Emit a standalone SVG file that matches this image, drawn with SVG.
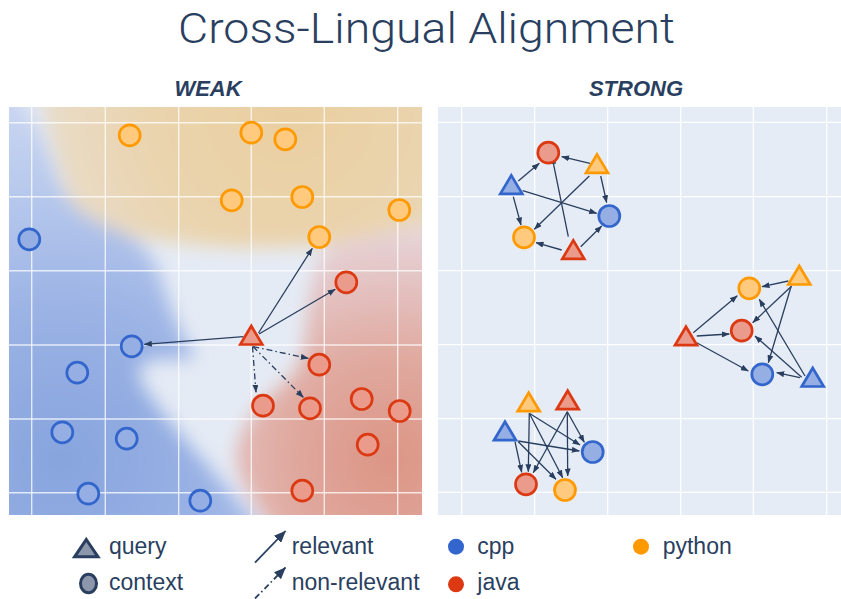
<svg xmlns="http://www.w3.org/2000/svg" xmlns:xlink="http://www.w3.org/1999/xlink" width="841" height="599" viewBox="0 0 841 599">
<style>
text{font-family:"Liberation Sans",Arial,Helvetica,sans-serif;fill:#2a3f5f}
.title{font-family:Roboto,"Liberation Sans",sans-serif;font-weight:300;font-size:43px}
.sub{font-size:22px;font-weight:bold;font-style:italic}
.leg{font-size:23px}
.grid{stroke:#ffffff;stroke-width:1.2;fill:none}
.gridL{stroke:#ffffff;stroke-width:1.4;stroke-opacity:0.75;fill:none}
.cpp{fill:#95aee3;stroke:#3366cc;stroke-width:2.7}
.java{fill:#ea9b8b;stroke:#dc3912;stroke-width:2.7}
.py{fill:#ffca7d;stroke:#ff9900;stroke-width:2.7}
.e{stroke:#2a3f5f;stroke-width:1.3;fill:none;marker-end:url(#ah)}
.dd{stroke-dasharray:6 3 1.5 3}
</style>
<defs>
<path id="tri" d="M0,-10 L11,8.5 L-11,8.5 Z" stroke-linejoin="miter"/>
<marker id="ah" markerUnits="userSpaceOnUse" markerWidth="8" markerHeight="6" viewBox="0 0 8 6" refX="7.5" refY="3" orient="auto">
<path d="M0,0 L8,3 L0,6 Z" fill="#2a3f5f"/>
</marker>
<marker id="ahL" markerUnits="userSpaceOnUse" markerWidth="12" markerHeight="10" viewBox="0 0 12 10" refX="11.5" refY="5" orient="auto">
<path d="M0,0 L12,5 L0,10 Z" fill="#2a3f5f"/>
</marker>
<clipPath id="clipL"><rect x="9" y="107" width="413" height="408"/></clipPath>
<filter id="blur" x="-30%" y="-30%" width="160%" height="160%"><feGaussianBlur stdDeviation="9"/></filter>
<radialGradient id="gO" gradientUnits="userSpaceOnUse" cx="290" cy="110" r="260">
<stop offset="0" stop-color="#e9cea0"/><stop offset="0.55" stop-color="#ead4ae"/><stop offset="1" stop-color="#e8ddcc"/>
</radialGradient>
<radialGradient id="gB" gradientUnits="userSpaceOnUse" cx="60" cy="460" r="370">
<stop offset="0" stop-color="#87a4de"/><stop offset="0.4" stop-color="#9ab2e4"/><stop offset="0.75" stop-color="#b9caed"/><stop offset="1" stop-color="#cbd7f1"/>
</radialGradient>
<radialGradient id="gR" gradientUnits="userSpaceOnUse" cx="390" cy="460" r="235">
<stop offset="0" stop-color="#dc9484"/><stop offset="0.45" stop-color="#e0aaa0"/><stop offset="0.8" stop-color="#e4c6c7"/><stop offset="1" stop-color="#e6d5d9"/>
</radialGradient>
</defs>
<rect width="841" height="599" fill="#ffffff"/>
<text class="title" x="426.5" y="43" text-anchor="middle" textLength="497" lengthAdjust="spacingAndGlyphs">Cross-Lingual Alignment</text>
<text class="sub" x="208" y="96" text-anchor="middle">WEAK</text>
<text class="sub" x="636" y="96" text-anchor="middle">STRONG</text>

<g id="panel-weak">
<rect x="9" y="107" width="413" height="408" fill="#e5ebf5"/>
<g clip-path="url(#clipL)">
<g filter="url(#blur)">
<path fill="url(#gO)" d="M40 90 L450 90 L450 224 C405 224,372 236,340 242 C290 250,230 249,178 243 C128 238,93 230,78 212 C63 192,58 162,50 137 C45 120,42 105,40 90 Z"/>
<path fill="url(#gB)" d="M-20 90 L14 90 C32 112,46 145,56 175 C64 200,80 215,105 225 C128 234,146 244,156 266 C166 292,174 322,190 347 C196 353,197 358,188 359 L160 359 C140 360,135 370,143 385 C168 425,215 470,266 535 L-20 535 Z"/>
<path fill="url(#gR)" d="M450 227 L450 535 L276 535 C256 505,236 480,236 455 C238 428,260 402,284 383 C298 371,303 358,305 338 C308 308,310 278,320 259 C334 238,372 230,450 227 Z"/>
</g>
</g>
<g class="gridL">
<path d="M31.7 107V515M105.3 107V515M178.7 107V515M251.3 107V515M324.3 107V515M397.7 107V515"/>
<path d="M9 122.7H422M9 196.7H422M9 270.7H422M9 345H422M9 419H422M9 492.7H422"/>
</g>
</g>

<g id="panel-strong">
<rect x="438" y="107" width="403" height="408" fill="#e5ecf6"/>
<g class="grid">
<path d="M461.7 107V515M534.7 107V515M607.7 107V515M680.7 107V515M753.3 107V515M826.7 107V515"/>
<path d="M438 122.3H841M438 196.7H841M438 270.7H841M438 344.7H841M438 418.7H841M438 492.3H841"/>
</g>
</g>

<g id="connectors">
<line class="e" x1="258.5" y1="333" x2="312.3" y2="248.3"/>
<line class="e" x1="259" y1="334" x2="335.3" y2="289.3"/>
<line class="e" x1="243.3" y1="336.7" x2="144.3" y2="344.3"/>
<line class="e dd" x1="253.3" y1="346.7" x2="308.3" y2="358.3"/>
<line class="e dd" x1="252.5" y1="346.5" x2="256" y2="392.3"/>
<line class="e dd" x1="253" y1="346.5" x2="303.3" y2="397.3"/>

<line class="e" x1="590" y1="163.3" x2="561.7" y2="156.7"/>
<line class="e" x1="518.3" y1="181" x2="539.3" y2="163.3"/>
<line class="e" x1="600.7" y1="176" x2="606.7" y2="202.7"/>
<line class="e" x1="589.3" y1="176" x2="534.3" y2="229.3"/>
<line class="e" x1="522.7" y1="190.7" x2="596.7" y2="213.3"/>
<line class="e" x1="513.3" y1="196.7" x2="521" y2="225"/>
<line class="e" x1="568.3" y1="236.7" x2="552" y2="156.7"/>
<line class="e" x1="561.7" y1="250" x2="536" y2="242.7"/>
<line class="e" x1="580.7" y1="246.7" x2="601.7" y2="226"/>

<line class="e" x1="788.3" y1="281" x2="762" y2="286.7"/>
<line class="e" x1="791.7" y1="286" x2="752.7" y2="322.7"/>
<line class="e" x1="791" y1="286.7" x2="768.3" y2="362.7"/>
<line class="e" x1="693.3" y1="332.7" x2="737.3" y2="295.7"/>
<line class="e" x1="696.7" y1="336" x2="729.3" y2="334"/>
<line class="e" x1="696.7" y1="342.7" x2="748.3" y2="371"/>
<line class="e" x1="805" y1="376" x2="759.3" y2="299.3"/>
<line class="e" x1="801.7" y1="377.3" x2="755" y2="336"/>
<line class="e" x1="800" y1="377.7" x2="776.7" y2="372.7"/>

<line class="e" x1="529.3" y1="413.3" x2="528.3" y2="471.7"/>
<line class="e" x1="529.3" y1="413.3" x2="562.7" y2="477.7"/>
<line class="e" x1="529.3" y1="413.3" x2="580" y2="445"/>
<line class="e" x1="567.3" y1="411.7" x2="567.7" y2="476"/>
<line class="e" x1="567.3" y1="411.7" x2="533.3" y2="472.7"/>
<line class="e" x1="567.3" y1="411.7" x2="584.3" y2="442.3"/>
<line class="e" x1="515" y1="441.7" x2="521.7" y2="472.3"/>
<line class="e" x1="518.3" y1="441.7" x2="556" y2="479.3"/>
<line class="e" x1="518.3" y1="441" x2="579.3" y2="451"/>
</g>

<g id="weak-python">
<circle class="py" cx="129.7" cy="135.3" r="10.5"/>
<circle class="py" cx="251.3" cy="132.7" r="10.5"/>
<circle class="py" cx="285.3" cy="139.3" r="10.5"/>
<circle class="py" cx="231.7" cy="200.3" r="10.5"/>
<circle class="py" cx="302.3" cy="197" r="10.5"/>
<circle class="py" cx="399.3" cy="210" r="10.5"/>
<circle class="py" cx="319.3" cy="237" r="10.5"/>
</g>
<g id="weak-cpp">
<circle class="cpp" cx="29.3" cy="239.3" r="10.5"/>
<circle class="cpp" cx="131.7" cy="346.3" r="10.5"/>
<circle class="cpp" cx="77.3" cy="372.7" r="10.5"/>
<circle class="cpp" cx="62.3" cy="432.3" r="10.5"/>
<circle class="cpp" cx="126.7" cy="438.7" r="10.5"/>
<circle class="cpp" cx="88.3" cy="493.7" r="10.5"/>
<circle class="cpp" cx="200.3" cy="500.7" r="10.5"/>
</g>
<g id="weak-java">
<circle class="java" cx="346.3" cy="282.3" r="10.5"/>
<circle class="java" cx="319.3" cy="364.7" r="10.5"/>
<circle class="java" cx="263" cy="405.7" r="10.5"/>
<circle class="java" cx="310" cy="408.3" r="10.5"/>
<circle class="java" cx="361.7" cy="399" r="10.5"/>
<circle class="java" cx="399.7" cy="411" r="10.5"/>
<circle class="java" cx="367.7" cy="444.7" r="10.5"/>
<circle class="java" cx="302.3" cy="490.7" r="10.5"/>
</g>
<g id="weak-query"><use href="#tri" class="java" x="251.3" y="336"/></g>

<g id="cluster1">
<circle class="java" cx="548.3" cy="152.7" r="10.5"/>
<circle class="cpp" cx="609.3" cy="216" r="10.5"/>
<circle class="py" cx="524" cy="237.3" r="10.5"/>
<use href="#tri" class="py" x="597" y="164.4"/>
<use href="#tri" class="cpp" x="511.3" y="185.4"/>
<use href="#tri" class="java" x="573.3" y="250.4"/>
</g>
<g id="cluster2">
<circle class="py" cx="749.3" cy="288.3" r="10.5"/>
<circle class="java" cx="741.7" cy="330.7" r="10.5"/>
<circle class="cpp" cx="762.3" cy="374.3" r="10.5"/>
<use href="#tri" class="py" x="799.3" y="276"/>
<use href="#tri" class="java" x="686" y="336.7"/>
<use href="#tri" class="cpp" x="812.7" y="378"/>
</g>
<g id="cluster3">
<circle class="cpp" cx="592.7" cy="452" r="10.5"/>
<circle class="java" cx="526" cy="484.3" r="10.5"/>
<circle class="py" cx="565" cy="490" r="10.5"/>
<use href="#tri" class="py" x="528.7" y="402.7"/>
<use href="#tri" class="java" x="567.7" y="400.7"/>
<use href="#tri" class="cpp" x="505" y="431.7"/>
</g>

<g id="legend">
<path d="M86.3 539.5 L98 556.8 L74.6 556.8 Z" fill="#8d97ab" stroke="#2a3f5f" stroke-width="3" stroke-linejoin="miter"/>
<text class="leg" x="109" y="553.5">query</text>
<ellipse cx="88.5" cy="583.5" rx="8" ry="9.2" fill="#8d97ab" stroke="#2a3f5f" stroke-width="3"/>
<text class="leg" x="109" y="590">context</text>
<line x1="255" y1="562.7" x2="285.5" y2="531" stroke="#2a3f5f" stroke-width="1.8" marker-end="url(#ahL)"/>
<text class="leg" x="291.7" y="553.5">relevant</text>
<line x1="255" y1="598.5" x2="285.5" y2="567.5" stroke="#2a3f5f" stroke-width="1.8" stroke-dasharray="6 3 1.5 3" marker-end="url(#ahL)"/>
<text class="leg" x="291.7" y="590">non-relevant</text>
<circle cx="456" cy="546.7" r="8" fill="#3366cc"/>
<text class="leg" x="477.3" y="553.5">cpp</text>
<circle cx="456" cy="584.3" r="8" fill="#dc3912"/>
<text class="leg" x="477.3" y="590">java</text>
<circle cx="641" cy="546.7" r="8" fill="#ff9900"/>
<text class="leg" x="662.7" y="553.5">python</text>
</g>
</svg>
